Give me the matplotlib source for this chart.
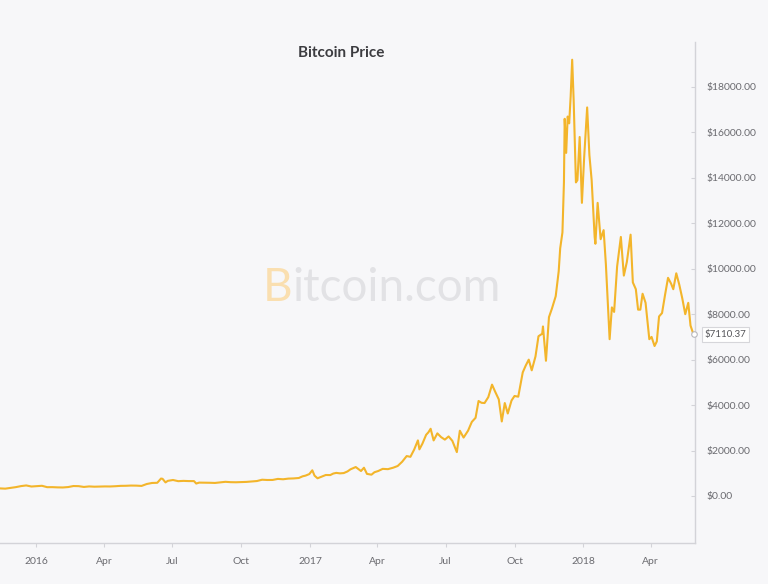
import pandas as pd
import matplotlib.pyplot as plt
from matplotlib.ticker import FuncFormatter

# Bitcoin closing prices (USD)
dates = [
    "2015-11-14", "2015-11-21", "2015-11-28", "2015-12-05", "2015-12-12", "2015-12-19", "2015-12-26",
    "2016-01-02", "2016-01-09", "2016-01-16", "2016-01-23", "2016-01-30", "2016-02-06", "2016-02-13",
    "2016-02-20", "2016-02-27", "2016-03-05", "2016-03-12", "2016-03-19", "2016-03-26", "2016-04-02",
    "2016-04-09", "2016-04-16", "2016-04-23", "2016-04-30", "2016-05-07", "2016-05-14", "2016-05-21",
    "2016-05-28", "2016-06-04", "2016-06-11", "2016-06-16", "2016-06-18", "2016-06-22", "2016-06-25",
    "2016-07-02", "2016-07-09", "2016-07-16", "2016-07-23", "2016-07-30", "2016-08-02", "2016-08-06",
    "2016-08-13", "2016-08-20", "2016-08-27", "2016-09-03", "2016-09-10", "2016-09-17", "2016-09-24",
    "2016-10-01", "2016-10-08", "2016-10-15", "2016-10-22", "2016-10-29", "2016-11-05", "2016-11-12",
    "2016-11-19", "2016-11-26", "2016-12-03", "2016-12-10", "2016-12-17", "2016-12-22", "2016-12-26",
    "2016-12-31",
    "2017-01-04", "2017-01-07", "2017-01-11", "2017-01-14", "2017-01-18", "2017-01-22", "2017-01-28",
    "2017-02-01", "2017-02-05", "2017-02-10", "2017-02-15", "2017-02-20", "2017-02-24", "2017-03-03",
    "2017-03-10", "2017-03-14", "2017-03-18", "2017-03-24", "2017-03-28", "2017-04-02", "2017-04-08",
    "2017-04-15", "2017-04-22", "2017-04-28", "2017-05-04", "2017-05-10", "2017-05-15", "2017-05-20",
    "2017-05-25", "2017-05-27", "2017-05-31", "2017-06-05", "2017-06-08", "2017-06-11", "2017-06-15",
    "2017-06-20", "2017-06-25", "2017-06-30", "2017-07-05", "2017-07-10", "2017-07-16", "2017-07-20",
    "2017-07-25", "2017-07-31", "2017-08-05", "2017-08-10", "2017-08-14", "2017-08-18", "2017-08-22",
    "2017-08-27", "2017-09-01", "2017-09-05", "2017-09-10", "2017-09-14", "2017-09-18", "2017-09-22",
    "2017-09-27", "2017-10-01", "2017-10-06", "2017-10-12", "2017-10-16", "2017-10-20", "2017-10-24",
    "2017-10-29", "2017-11-02", "2017-11-07", "2017-11-08", "2017-11-12", "2017-11-16", "2017-11-20",
    "2017-11-25", "2017-11-29", "2017-12-01", "2017-12-04", "2017-12-06", "2017-12-07", "2017-12-09",
    "2017-12-11", "2017-12-13", "2017-12-15", "2017-12-17", "2017-12-19", "2017-12-22", "2017-12-24",
    "2017-12-27", "2017-12-30",
    "2018-01-02", "2018-01-06", "2018-01-09", "2018-01-12", "2018-01-16", "2018-01-17", "2018-01-20",
    "2018-01-24", "2018-01-28", "2018-01-31", "2018-02-02", "2018-02-05", "2018-02-08", "2018-02-11",
    "2018-02-15", "2018-02-20", "2018-02-24", "2018-02-28", "2018-03-05", "2018-03-08", "2018-03-12",
    "2018-03-15", "2018-03-18", "2018-03-21", "2018-03-25", "2018-03-30", "2018-04-02", "2018-04-06",
    "2018-04-09", "2018-04-12", "2018-04-16", "2018-04-20", "2018-04-24", "2018-04-28", "2018-05-01",
    "2018-05-05", "2018-05-09", "2018-05-13", "2018-05-17", "2018-05-21", "2018-05-24", "2018-05-28",
]
prices = [
    333, 322, 357, 388, 434, 463, 416,
    434, 448, 387, 388, 378, 374, 392,
    437, 432, 397, 420, 408, 416, 420,
    418, 429, 445, 448, 458, 455, 442,
    527, 572, 580, 766, 756, 597, 665,
    703, 651, 664, 655, 655, 547, 588,
    585, 581, 573, 599, 623, 607, 603,
    613, 619, 638, 657, 715, 703, 705,
    751, 735, 764, 772, 791, 864, 896,
    963,
    1130, 894, 778, 818, 873, 923, 920,
    987, 1016, 995, 1008, 1080, 1173, 1273,
    1098, 1243, 972, 937, 1045, 1098, 1193,
    1180, 1244, 1319, 1507, 1756, 1723, 2041,
    2446, 2052, 2300, 2692, 2800, 2958, 2445,
    2755, 2589, 2480, 2620, 2425, 1930, 2872,
    2570, 2875, 3260, 3440, 4180, 4100, 4090,
    4350, 4900, 4600, 4250, 3280, 4090, 3630,
    4200, 4400, 4370, 5440, 5740, 6000, 5530,
    6140, 7030, 7140, 7460, 5950, 7870, 8250,
    8790, 9890, 10900, 11600, 13800, 16600, 15100,
    16700, 16400, 17600, 19200, 17400, 13800, 13900,
    15800, 12900,
    14900, 17100, 15000, 13900, 11400, 11100, 12900,
    11300, 11700, 10200, 8900, 6900, 8300, 8100,
    10100, 11400, 9700, 10300, 11500, 9400, 9100,
    8200, 8200, 8900, 8500, 6900, 7000, 6600,
    6800, 7900, 8050, 8850, 9600, 9350, 9100,
    9800, 9300, 8700, 8000, 8500, 7500, 7110.37,
]
tick_dates = ["2016-01-01", "2016-04-01", "2016-07-01", "2016-10-01", "2017-01-01",
              "2017-04-01", "2017-07-01", "2017-10-01", "2018-01-01", "2018-04-01"]
tick_labels = ["2016", "Apr", "Jul", "Oct", "2017", "Apr", "Jul", "Oct", "2018", "Apr"]
y_ticks = [0, 2000, 4000, 6000, 8000, 10000, 12000, 14000, 16000, 18000]

df = pd.DataFrame({"date": pd.to_datetime(dates), "price": prices})

bg = "#f7f7f9"
line_color = "#f3b52b"
axis_color = "#d3d3d8"
text_color = "#6b6b70"

plt.rcParams['font.family'] = ['Lato', 'DejaVu Sans']

fig = plt.figure(figsize=(7.68, 5.84), dpi=100, facecolor=bg)
ax = fig.add_axes([0, 41 / 584, 695 / 768, 501 / 584], facecolor=bg)

# watermark: orange "B" followed by grey "itcoin.com"
b_txt = fig.text(263 / 768, 1 - 288 / 584, "B", color="#fadfb0", fontsize=33,
                 va="center", ha="left", zorder=0)
ax.annotate("itcoin.com", xy=(1, 0), xycoords=b_txt, va="bottom", ha="left",
            fontsize=33, color="#e2e2e5", zorder=0, annotation_clip=False)

ax.plot(df["date"], df["price"], color=line_color, linewidth=1.5, zorder=3)

# last price marker and label
last = df.iloc[-1]
ax.plot([last["date"]], [last["price"]], marker="o", markersize=4,
        markerfacecolor="white", markeredgecolor="#b8b8bd", markeredgewidth=0.8,
        zorder=4, clip_on=False)
ax.annotate(f"${last['price']:.2f}", xy=(1, last["price"]), xycoords=("axes fraction", "data"),
            xytext=(7, 0), textcoords="offset points", va="center", ha="left",
            fontsize=7, color="#555559",
            bbox=dict(boxstyle="square,pad=0.3", fc="white", ec="#d6d6da", lw=0.8))

ax.set_xlim(pd.Timestamp("2015-11-14"), pd.Timestamp("2018-05-30"))
ax.set_ylim(-2070, 19980)

ax.set_xticks(pd.to_datetime(tick_dates))
ax.set_xticklabels(tick_labels)
ax.set_yticks(y_ticks)
ax.yaxis.set_major_formatter(FuncFormatter(lambda v, p: f"${v:.2f}"))
ax.yaxis.tick_right()

for side in ["top", "left"]:
    ax.spines[side].set_visible(False)
for side in ["bottom", "right"]:
    ax.spines[side].set_color(axis_color)
    ax.spines[side].set_linewidth(1)

ax.tick_params(axis="x", direction="out", length=3, color=axis_color, labelsize=7.5,
               labelcolor=text_color, pad=7)
ax.tick_params(axis="y", direction="in", length=3, color=axis_color, labelsize=7.5,
               labelcolor=text_color, pad=8)

fig.text(341 / 768, 1 - 53 / 584, "Bitcoin Price", ha="center", va="center",
         fontsize=11, fontweight="bold", color="#3c3c40")

fig.savefig("out.png", dpi=100, facecolor=bg)
